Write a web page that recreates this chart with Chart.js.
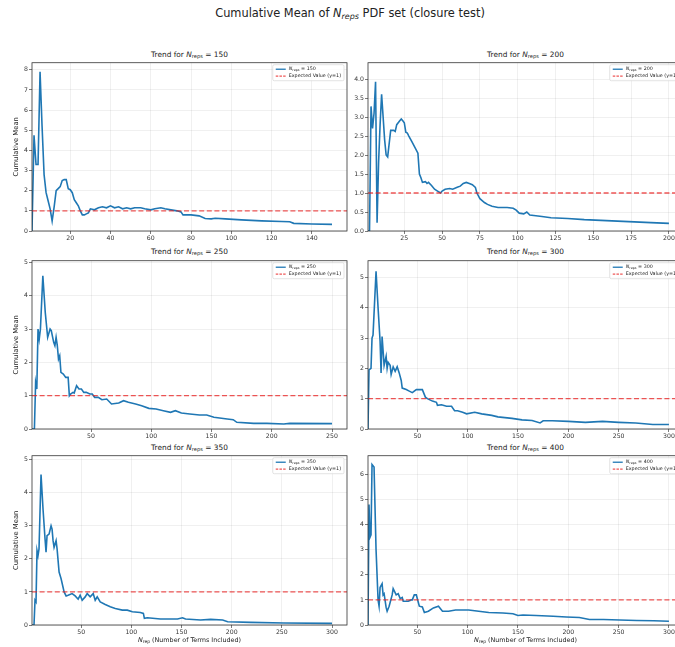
<!DOCTYPE html>
<html>
<head>
<meta charset="utf-8">
<script src="https://cdn.jsdelivr.net/npm/chart.js@4.4.1/dist/chart.umd.min.js"></script>
<style>
  html, body { margin: 0; padding: 0; background: #fff; }
  body { width: 675px; height: 647px; position: relative; overflow: hidden; font-family: "DejaVu Sans", sans-serif; color: #222; }
  canvas { position: absolute; }
  .title { position: absolute; text-align: center; white-space: nowrap; }
  .title sub { font-size: 70%; vertical-align: -0.25em; line-height: 0; }
  #suptitle { left: 0; width: 700px; top: 6px; font-size: 11.4px; line-height: 14px; }
  .panel-title { font-size: 7.4px; line-height: 10px; width: 315px; }
  .x-label { font-size: 6.4px; line-height: 9px; width: 315px; }
</style>
</head>
<body>
<div id="suptitle" class="title">Cumulative Mean of <i>N</i><sub><i>reps</i></sub> PDF set (closure test)</div>

<div class="title panel-title" style="left:32px; top:50px;">Trend for <i>N</i><sub>reps</sub> = 150</div>
<div class="title panel-title" style="left:368px; top:50px;">Trend for <i>N</i><sub>reps</sub> = 200</div>
<div class="title panel-title" style="left:32px; top:247px;">Trend for <i>N</i><sub>reps</sub> = 250</div>
<div class="title panel-title" style="left:368px; top:247px;">Trend for <i>N</i><sub>reps</sub> = 300</div>
<div class="title panel-title" style="left:32px; top:443px;">Trend for <i>N</i><sub>reps</sub> = 350</div>
<div class="title panel-title" style="left:368px; top:443px;">Trend for <i>N</i><sub>reps</sub> = 400</div>

<canvas id="c150" width="350" height="187" style="left:0; top:58px;"></canvas>
<canvas id="c200" width="350" height="187" style="left:337px; top:58px;"></canvas>
<canvas id="c250" width="350" height="187" style="left:0; top:256px;"></canvas>
<canvas id="c300" width="350" height="187" style="left:337px; top:256px;"></canvas>
<canvas id="c350" width="350" height="188" style="left:0; top:451px;"></canvas>
<canvas id="c400" width="350" height="188" style="left:337px; top:451px;"></canvas>

<div class="title x-label" style="left:32px; top:636px;"><i>N</i><sub>rep</sub> (Number of Terms Included)</div>
<div class="title x-label" style="left:368px; top:636px;"><i>N</i><sub>rep</sub> (Number of Terms Included)</div>

<script>
// cumulative mean after n terms, one pair of arrays per replica-set size
const terms150 = [1,2,3,4,5,6,7,8,9,10,11,12,13,14,15,16,17,18,19,20,21,22,23,24,25,26,27,28,29,30,32,34,36,38,40,42,44,46,48,50,52,55,57,60,62,65,67,70,73,75,76,80,84,87,90,92,97,105,115,125,129,131,140,150];
const mean150 = [0,4.75,3.3,3.3,7.9,5.2,2.8,1.9,1.5,1.1,0.5,1.2,2.0,2.1,2.2,2.5,2.55,2.55,2.1,2.05,1.9,1.55,1.4,1.25,1.0,0.8,0.8,0.85,0.9,1.1,1.05,1.15,1.2,1.15,1.25,1.15,1.2,1.1,1.15,1.1,1.15,1.15,1.1,1.05,1.1,1.15,1.1,1.05,1.0,0.95,0.8,0.8,0.75,0.62,0.6,0.63,0.6,0.55,0.5,0.47,0.46,0.38,0.35,0.33];

const terms200 = [1,2,3,4,5,6,7,8,9,10,11,12,13,14,15,16,18,19,20,22,23,24,25,26,27,28,30,32,34,35,36,37,39,40,41,43,45,47,49,50,52,55,57,60,62,64,66,68,70,72,73,75,78,80,83,87,93,97,99,101,104,106,108,112,116,122,133,144,155,166,177,188,200];
const mean200 = [0,0,3.28,2.7,3.1,3.93,0.22,1.8,2.8,3.6,3.0,2.4,2.0,1.95,2.3,2.65,2.65,2.62,2.8,2.9,2.95,2.9,2.85,2.6,2.58,2.5,2.35,2.2,2.05,1.5,1.4,1.28,1.3,1.25,1.28,1.2,1.1,1.05,1.0,1.05,1.1,1.12,1.1,1.15,1.18,1.25,1.28,1.25,1.22,1.15,1.0,0.85,0.75,0.7,0.65,0.62,0.62,0.6,0.55,0.47,0.45,0.5,0.42,0.4,0.38,0.35,0.33,0.3,0.28,0.26,0.24,0.22,0.2];

const terms250 = [1,2,3,4,5,6,7,8,10,12,14,16,17,19,20,21,22,23,24,25,27,29,31,32,33,35,36,38,40,42,44,46,49,51,53,56,59,63,67,73,77,81,87,92,98,104,110,116,120,125,132,140,146,152,163,168,171,185,196,210,215,250];
const mean250 = [0,0,0,1.4,1.2,3.0,2.7,3.0,4.6,3.5,2.75,3.0,2.95,2.6,2.5,2.75,2.5,2.1,2.2,1.7,1.65,1.55,1.55,1.0,1.05,1.1,1.08,1.3,1.2,1.2,1.1,1.1,1.05,1.05,0.95,0.95,0.88,0.9,0.75,0.78,0.85,0.8,0.75,0.7,0.62,0.6,0.55,0.5,0.55,0.48,0.45,0.42,0.42,0.35,0.3,0.28,0.2,0.17,0.17,0.15,0.17,0.16];

const terms300 = [1,2,4,5,6,9,11,13,14,15,17,19,20,21,23,24,26,28,30,32,34,35,39,42,45,49,54,55,58,60,65,69,70,74,79,84,87,90,95,99,107,114,124,130,144,154,164,172,175,184,200,217,234,250,267,284,300];
const mean300 = [0,1.95,2.0,3.0,3.1,5.2,4.0,2.9,1.85,3.05,2.1,2.4,2.0,2.2,2.1,1.8,2.05,1.9,2.05,1.85,1.6,1.35,1.3,1.25,1.2,1.3,1.3,1.3,1.05,1.0,0.92,0.88,0.78,0.8,0.75,0.75,0.6,0.6,0.55,0.5,0.55,0.5,0.45,0.4,0.35,0.3,0.28,0.2,0.27,0.27,0.25,0.22,0.25,0.22,0.2,0.15,0.15];

const terms350 = [1,3,4,5,6,7,8,10,12,14,15,16,18,20,21,22,23,25,26,28,30,33,35,37,41,44,47,49,51,54,56,59,62,64,66,69,74,79,84,91,96,101,109,112,113,116,129,146,151,154,169,179,191,196,219,252,300];
const mean350 = [0,0,0.75,0.7,2.25,2.1,2.3,4.55,3.5,2.6,2.2,2.7,2.75,3.0,2.9,2.55,2.35,2.55,2.3,1.6,1.4,1.0,0.88,0.9,0.95,0.88,0.78,0.9,0.75,0.85,0.95,0.85,0.95,0.75,0.85,0.7,0.62,0.55,0.5,0.45,0.45,0.4,0.38,0.35,0.2,0.22,0.18,0.18,0.22,0.18,0.15,0.17,0.15,0.1,0.08,0.06,0.05];

const terms400 = [1,2,3,4,5,7,9,11,12,13,15,16,17,19,20,22,25,26,29,31,33,35,36,41,44,45,47,49,51,52,55,57,61,66,71,75,81,88,95,101,111,121,135,145,150,155,168,185,198,211,221,235,251,268,285,300];
const mean400 = [0,4.8,3.5,3.6,6.4,6.3,3.0,1.0,0.75,1.5,1.65,1.2,1.25,0.7,0.55,0.75,1.2,1.45,1.2,1.25,1.05,1.1,0.95,0.95,1.0,1.0,1.2,1.2,0.9,0.75,0.72,0.5,0.55,0.68,0.75,0.55,0.55,0.6,0.6,0.6,0.55,0.5,0.48,0.45,0.38,0.4,0.38,0.35,0.32,0.3,0.22,0.22,0.2,0.18,0.17,0.15];

const expectedValue = 1;

// tick positions
const xTicks150 = [20, 40, 60, 80, 100, 120, 140];
const xTicks200 = [25, 50, 75, 100, 125, 150, 175, 200];
const xTicks250 = [50, 100, 150, 200, 250];
const xTicks300 = [50, 100, 150, 200, 250, 300];
const yTicks150 = [0, 1, 2, 3, 4, 5, 6, 7, 8];
const yTicks200 = [0, 0.5, 1, 1.5, 2, 2.5, 3, 3.5, 4];
const yTicks5 = [0, 1, 2, 3, 4, 5];
const yTicks400 = [0, 1, 2, 3, 4, 5, 6];

const FONT = '"DejaVu Sans", sans-serif';
const BLUE = '#1f77b4';
const RED = 'rgba(232, 30, 30, 0.75)';

// box round the plot area (matplotlib spines)
const frame = {
    id: 'frame',
    afterDatasetsDraw(chart) {
        const { ctx, chartArea: a } = chart;
        ctx.save();
        ctx.strokeStyle = '#333';
        ctx.lineWidth = 0.8;
        ctx.strokeRect(a.left, a.top, a.right - a.left, a.bottom - a.top);
        ctx.restore();
    },
};

// legend drawn in the upper right corner inside the axes
const cornerLegend = {
    id: 'cornerLegend',
    afterDraw(chart) {
        const { ctx, chartArea: a } = chart;
        const n = chart.options.plugins.cornerLegend.n;
        const size = 4.8;
        const subSize = size * 0.7;
        ctx.save();
        ctx.textBaseline = 'middle';

        ctx.font = `italic ${size}px ${FONT}`;
        const wN = ctx.measureText('N').width;
        ctx.font = `${subSize}px ${FONT}`;
        const wSub = ctx.measureText('reps').width;
        ctx.font = `${size}px ${FONT}`;
        const wRest = ctx.measureText(` = ${n}`).width;
        const wExp = ctx.measureText('Expected Value (y=1)').width;

        const sample = 10;
        const textW = Math.max(wN + wSub + wRest, wExp);
        const w = 3 + sample + 3 + textW + 3;
        const h = 16;
        const x0 = a.right - 3 - w;
        const y0 = a.top + 2;

        ctx.fillStyle = 'rgba(255,255,255,0.8)';
        ctx.strokeStyle = '#d0d0d0';
        ctx.lineWidth = 0.6;
        ctx.beginPath();
        ctx.roundRect(x0, y0, w, h, 1.5);
        ctx.fill();
        ctx.stroke();

        const row1 = y0 + 4.5;
        const row2 = y0 + 11.5;
        const sx = x0 + 3;

        ctx.lineWidth = 1.3;
        ctx.strokeStyle = BLUE;
        ctx.beginPath();
        ctx.moveTo(sx, row1);
        ctx.lineTo(sx + sample, row1);
        ctx.stroke();

        ctx.strokeStyle = RED;
        ctx.setLineDash([2.5, 1.2]);
        ctx.beginPath();
        ctx.moveTo(sx, row2);
        ctx.lineTo(sx + sample, row2);
        ctx.stroke();
        ctx.setLineDash([]);

        ctx.fillStyle = '#222';
        let tx = sx + sample + 3;
        ctx.font = `italic ${size}px ${FONT}`;
        ctx.fillText('N', tx, row1);
        tx += wN;
        ctx.font = `${subSize}px ${FONT}`;
        ctx.fillText('reps', tx, row1 + 1);
        tx += wSub;
        ctx.font = `${size}px ${FONT}`;
        ctx.fillText(` = ${n}`, tx, row1);
        ctx.fillText('Expected Value (y=1)', sx + sample + 3, row2);
        ctx.restore();
    },
};

function makePanel(id, n, terms, means, xMax, xTicks, yMax, yTicks, opts) {
    const xMin = 1;
    const leftColumn = opts.leftColumn;
    const tickFont = { family: FONT, size: 6.2 };

    return new Chart(document.getElementById(id), {
        type: 'line',
        data: {
            datasets: [
                {
                    label: `N_reps = ${n}`,
                    data: terms.map((t, i) => ({ x: t, y: means[i] })),
                    borderColor: BLUE,
                    borderWidth: 1.6,
                    pointRadius: 0,
                    tension: 0,
                    order: 1,
                },
                {
                    label: 'Expected Value (y=1)',
                    data: [{ x: xMin, y: expectedValue }, { x: xMax, y: expectedValue }],
                    borderColor: RED,
                    borderWidth: 1.3,
                    borderDash: [5, 2.6],
                    pointRadius: 0,
                    order: 0,
                },
            ],
        },
        options: {
            responsive: false,
            animation: false,
            events: [],
            layout: { padding: { top: 4, right: 3, bottom: 0, left: 0 } },
            plugins: {
                legend: { display: false },
                tooltip: { enabled: false },
                cornerLegend: { n },
            },
            scales: {
                x: {
                    type: 'linear',
                    min: xMin,
                    max: xMax,
                    afterBuildTicks: (scale) => {
                        scale.ticks = xTicks.map((v) => ({ value: v }));
                    },
                    afterFit: (scale) => {
                        scale.height = 14;
                    },
                    grid: {
                        color: 'rgba(0,0,0,0.1)',
                        lineWidth: 0.6,
                        tickLength: 3,
                        tickColor: '#444',
                        tickWidth: 0.7,
                    },
                    border: { display: false },
                    ticks: {
                        color: '#333',
                        font: tickFont,
                        padding: 1,
                        maxRotation: 0,
                        autoSkip: false,
                    },
                },
                y: {
                    type: 'linear',
                    min: 0,
                    max: yMax,
                    afterBuildTicks: (scale) => {
                        scale.ticks = yTicks.map((v) => ({ value: v }));
                    },
                    afterFit: (scale) => {
                        scale.width = leftColumn ? 32 : 31;
                    },
                    grid: {
                        color: 'rgba(0,0,0,0.1)',
                        lineWidth: 0.6,
                        tickLength: 3,
                        tickColor: '#444',
                        tickWidth: 0.7,
                    },
                    border: { display: false },
                    ticks: {
                        color: '#333',
                        font: tickFont,
                        padding: 1,
                        autoSkip: false,
                        callback: (v) => (opts.decimals ? v.toFixed(1) : String(v)),
                    },
                    title: {
                        display: leftColumn,
                        text: 'Cumulative Mean',
                        color: '#222',
                        font: { family: FONT, size: 6.8 },
                        padding: { top: 12, bottom: 0 },
                    },
                },
            },
        },
        plugins: [frame, cornerLegend],
    });
}

makePanel('c150', 150, terms150, mean150, 157.45, xTicks150, 8.35, yTicks150, { leftColumn: true });
makePanel('c200', 200, terms200, mean200, 209.95, xTicks200, 4.43, yTicks200, { leftColumn: false, decimals: true });
makePanel('c250', 250, terms250, mean250, 262.45, xTicks250, 5.05, yTicks5, { leftColumn: true });
makePanel('c300', 300, terms300, mean300, 314.95, xTicks300, 5.55, yTicks5, { leftColumn: false });
makePanel('c350', 350, terms350, mean350, 314.95, xTicks300, 5.12, yTicks5, { leftColumn: true });
makePanel('c400', 400, terms400, mean400, 314.95, xTicks300, 6.75, yTicks400, { leftColumn: false });
</script>
</body>
</html>
